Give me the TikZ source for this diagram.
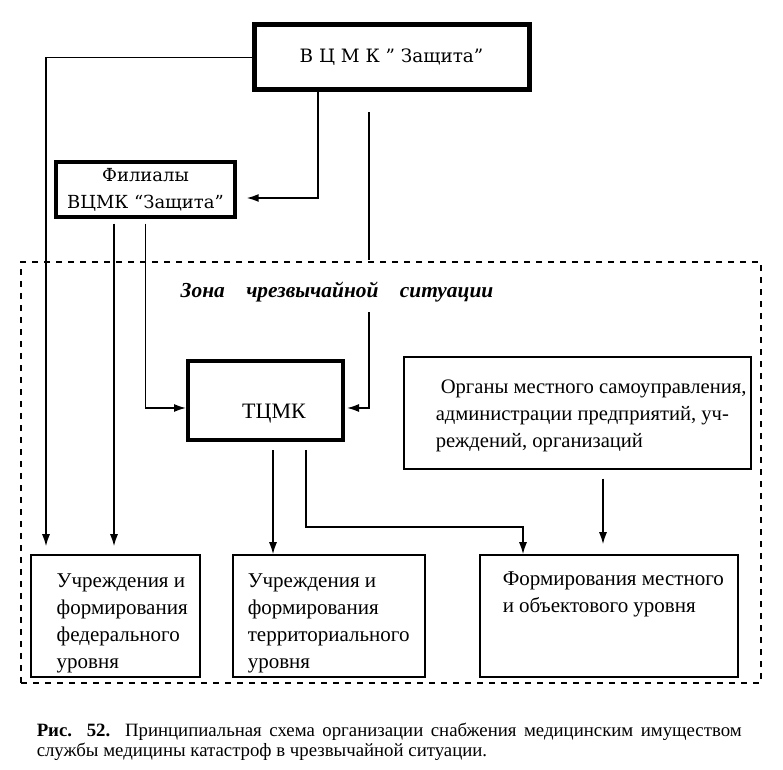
\documentclass[tikz,border=0pt]{standalone}
\usepackage{fontspec}
\setmainfont{Liberation Serif}
\newfontfamily\headfont{DejaVu Serif}
\usetikzlibrary{arrows.meta}
\begin{document}
\begin{tikzpicture}[x=0.5pt,y=-0.5pt,line width=0.75pt,
        >={Latex[length=6pt,width=4pt]},
        box/.style={draw,inner sep=0pt},
        thickbox/.style={draw,inner sep=0pt,line width=2pt},
        txt/.style={align=left,inner sep=0pt,font=\fontsize{10.5}{13.5}\selectfont}]
                \useasboundingbox (0,0) rectangle (783,770);
                
                \node[draw,dashed,line width=0.6pt,minimum width=370pt,minimum height=210.5pt] (zone) at (391,472.5) {};
                
                \node[thickbox,line width=2.5pt,minimum width=137.5pt,minimum height=32.5pt,
                      font=\headfont\fontsize{9.2}{11}\selectfont] (vcmk) at (391.5,57.5) {В Ц М К ” Защита”};
                \node[thickbox,line width=1.7pt,minimum width=89.5pt,minimum height=27.5pt,align=center,
                      font=\headfont\fontsize{9}{13.5}\selectfont] (fil) at (145.5,189.5) {Филиалы\\ВЦМК “Защита”};
                \node[thickbox,minimum width=77.5pt,minimum height=39.5pt] (tcmk) at (265.5,400.5) {};
                \node[box,minimum width=173.5pt,minimum height=56pt] (organy) at (577.5,413) {};
                \node[box,minimum width=84.5pt,minimum height=61pt] (fed) at (115.5,616) {};
                \node[box,minimum width=96pt,minimum height=61pt] (terr) at (329,616) {};
                \node[box,minimum width=129pt,minimum height=61pt] (local) at (609,616) {};
                
                \node[anchor=base,font=\fontsize{11}{13}\selectfont] (tcmklabel) at (274,419) {ТЦМК};
                \node[anchor=base,font=\bfseries\itshape\fontsize{10.7}{13}\selectfont] (zonelabel) at (337,298)
                      {Зона\quad чрезвычайной\quad ситуации};
                \node[txt,anchor=north west,font=\fontsize{10.3}{13.5}\selectfont] (organytxt) at (435,379)
                      {\hspace*{2.5pt}Органы местного самоуправления,\\администрации предприятий, уч-\\реждений, организаций};
                \node[txt,anchor=north west] (fedtxt) at (56,573) {Учреждения и\\формирования\\федерального\\уровня};
                \node[txt,anchor=north west] (terrtxt) at (247,573) {Учреждения и\\формирования\\территориального\\уровня};
                \node[txt,anchor=north west] (localtxt) at (502,571) {Формирования местного\\и объектового уровня};
                
                \draw[->,shorten >=4pt] (vcmk.west) -| ([xshift=-34.75pt]fed.north);
                \draw[->,shorten >=5pt] ([xshift=-36.75pt]vcmk.south) |- ([yshift=-4.25pt]fil.east);
                \draw ([xshift=-11.25pt,yshift=-10pt]vcmk.south) -- ++(0,148);
                \draw[->,shorten >=1pt] ([xshift=-11.25pt,yshift=-110pt]vcmk.south) |- ([yshift=-3.75pt]tcmk.east);
                
                \draw[->,shorten <=2.5pt,shorten >=4pt] ([xshift=-15.75pt]fil.south) -- ([xshift=-0.75pt]fed.north);
                \draw[->,shorten <=2.5pt] (fil.south) |- ([yshift=-3.75pt]tcmk.west);
                
                \draw[->,shorten <=4pt] ([xshift=3.75pt]tcmk.south) -- ([xshift=-28pt]terr.north);
                \draw[->,shorten <=4pt] ([xshift=20.25pt]tcmk.south) -- ++(0,85) -| ([xshift=-43pt]local.north);
                \draw[->,shorten <=4.5pt,shorten >=5pt] ([xshift=12.75pt]organy.south) -- ([xshift=-3pt]local.north);
                
                \node[anchor=north west,text width=352.5pt,align=justify,inner sep=0pt,
                      font=\fontsize{9.4}{10}\selectfont] (caption) at (36,722)
                      {\textbf{Рис. 52.} Принципиальная схема организации снабжения медицинским имуществом\linebreak
                       службы медицины катастроф в чрезвычайной ситуации.};
            \end{tikzpicture}
\end{document}
